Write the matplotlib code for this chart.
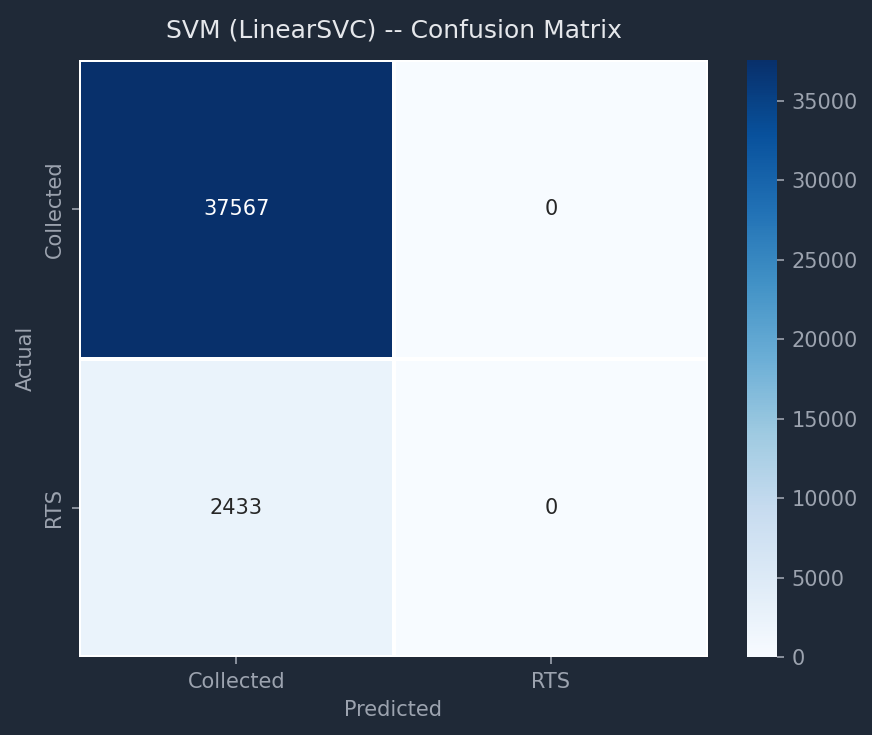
import matplotlib
matplotlib.use("Agg")
import matplotlib.pyplot as plt
import seaborn as sns
import numpy as np

labels = ["Collected", "RTS"]
cm_row_collected = [37567, 0]
cm_row_rts = [2433, 0]
cm = np.array([cm_row_collected, cm_row_rts])

BG = "#1f2937"
TXT = "#9ca3af"
TITLE = "#e5e7eb"

DPI = 150
W, H = 872, 735
fig = plt.figure(figsize=(W / DPI, H / DPI), dpi=DPI, facecolor=BG)
ax = fig.add_axes([79 / W, 1 - 657 / H, (708 - 79) / W, (657 - 60) / H])
cax = fig.add_axes([747 / W, 1 - 657 / H, (777 - 747) / W, (657 - 60) / H])
ax.set_facecolor(BG)

sns.heatmap(cm, annot=True, fmt="d", cmap="Blues", linewidths=1, linecolor="white",
            xticklabels=labels, yticklabels=labels, ax=ax, cbar_ax=cax,
            annot_kws={"fontsize": 10})

ax.set_title("SVM (LinearSVC) -- Confusion Matrix", color=TITLE, fontsize=12, pad=11)
ax.set_xlabel("Predicted", color=TXT, fontsize=10)
ax.set_ylabel("Actual", color=TXT, fontsize=10)
ax.tick_params(colors=TXT, labelsize=10)
for lab in ax.get_xticklabels() + ax.get_yticklabels():
    lab.set_color(TXT)
cax.tick_params(colors=TXT, labelsize=10)
for lab in cax.get_yticklabels():
    lab.set_color(TXT)
for s in cax.spines.values():
    s.set_visible(False)

fig.savefig("out.png", dpi=DPI, facecolor=BG)
